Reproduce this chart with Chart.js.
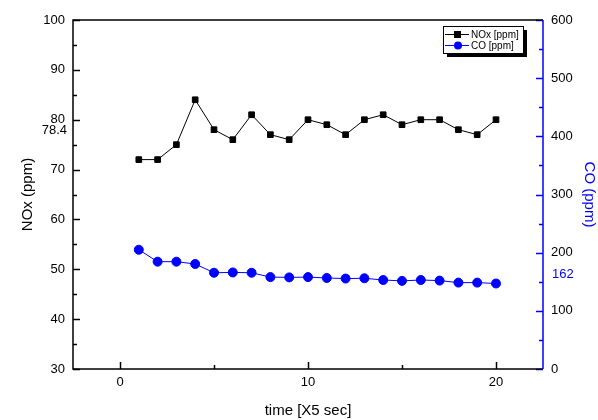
<!DOCTYPE html>
<html lang="en">
<head>
    <meta charset="UTF-8">
    <title>NOx / CO</title>
    <script src="https://cdn.jsdelivr.net/npm/chart.js"></script>
    <style>
        body { margin: 0; background: #fff; }
        #wrap { width: 598px; height: 420px; }
    </style>
</head>
<body>
    <div id="wrap"><canvas id="gasChart" width="598" height="420"></canvas></div>

    <script>
        // sample index (one step = 5 sec)
        var timeSteps = [1, 2, 3, 4, 5, 6, 7, 8, 9, 10, 11, 12, 13, 14, 15, 16, 17, 18, 19, 20];
        var noxPpm = [72, 72, 75, 84, 78, 76, 81, 77, 76, 80, 79, 77, 80, 81, 79, 80, 80, 78, 77, 80];
        var coPpm = [205, 184.5, 184.5, 180.5, 165.5, 166, 165.5, 158, 157.5, 158, 156.5, 155.5, 156, 153, 151.5, 153, 152, 148.5, 148.5, 147];
        var noxMean = 78.4;
        var coMean = 162;

        var xMajor = [0, 10, 20];
        var xMinor = [5, 15];
        var noxMajor = [30, 40, 50, 60, 70, 80, 90, 100];
        var noxMinor = [35, 45, 55, 65, 75, 85, 95];
        var coMajor = [0, 100, 200, 300, 400, 500, 600];
        var coMinor = [50, 150, 250, 350, 450, 550];

        var FONT = "'Liberation Sans', Arial, sans-serif";
        var BLUE = "#0000ff";

        function pts(ys) {
            return timeSteps.map(function (t, i) { return { x: t, y: ys[i] }; });
        }

        // frame, inward tick marks, mean labels and legend box
        var decorations = {
            id: "decorations",
            afterDraw: function (chart) {
                var ctx = chart.ctx, a = chart.chartArea;
                var sx = chart.scales.x, sl = chart.scales.y, sr = chart.scales.y2;
                ctx.save();
                ctx.lineWidth = 1.5;

                // ticks on the bottom axis
                ctx.strokeStyle = "#000";
                xMajor.forEach(function (v) {
                    var px = Math.round(sx.getPixelForValue(v)) + 0.5;
                    ctx.beginPath(); ctx.moveTo(px, a.bottom); ctx.lineTo(px, a.bottom - 7); ctx.stroke();
                });
                xMinor.forEach(function (v) {
                    var px = Math.round(sx.getPixelForValue(v)) + 0.5;
                    ctx.beginPath(); ctx.moveTo(px, a.bottom); ctx.lineTo(px, a.bottom - 4); ctx.stroke();
                });

                // left axis ticks
                noxMajor.forEach(function (v) {
                    var py = Math.round(sl.getPixelForValue(v)) + 0.5;
                    ctx.beginPath(); ctx.moveTo(a.left, py); ctx.lineTo(a.left + 7, py); ctx.stroke();
                });
                noxMinor.forEach(function (v) {
                    var py = Math.round(sl.getPixelForValue(v)) + 0.5;
                    ctx.beginPath(); ctx.moveTo(a.left, py); ctx.lineTo(a.left + 4, py); ctx.stroke();
                });

                // right axis ticks
                ctx.strokeStyle = BLUE;
                coMajor.forEach(function (v) {
                    var py = Math.round(sr.getPixelForValue(v)) + 0.5;
                    ctx.beginPath(); ctx.moveTo(a.right, py); ctx.lineTo(a.right - 7, py); ctx.stroke();
                });
                coMinor.forEach(function (v) {
                    var py = Math.round(sr.getPixelForValue(v)) + 0.5;
                    ctx.beginPath(); ctx.moveTo(a.right, py); ctx.lineTo(a.right - 4, py); ctx.stroke();
                });

                // frame
                ctx.strokeStyle = "#000";
                ctx.beginPath();
                ctx.moveTo(a.right, a.top); ctx.lineTo(a.left, a.top);
                ctx.lineTo(a.left, a.bottom); ctx.lineTo(a.right, a.bottom);
                ctx.stroke();
                ctx.strokeStyle = BLUE;
                ctx.beginPath(); ctx.moveTo(a.right, a.top); ctx.lineTo(a.right, a.bottom); ctx.stroke();

                // mean values next to the axes
                ctx.font = "13px " + FONT;
                ctx.textBaseline = "middle";
                ctx.fillStyle = "#000";
                ctx.textAlign = "right";
                ctx.fillText(String(noxMean), a.left - 6, sl.getPixelForValue(noxMean) + 3);
                ctx.fillStyle = BLUE;
                ctx.textAlign = "left";
                ctx.fillText(String(coMean), a.right + 9, sr.getPixelForValue(coMean));

                // legend
                var bx = 443, by = 26, bw = 80, bh = 27;
                ctx.fillStyle = "#000";
                ctx.fillRect(bx + 4, by + 4, bw, bh);
                ctx.fillStyle = "#fff";
                ctx.fillRect(bx, by, bw, bh);
                ctx.lineWidth = 1;
                ctx.strokeStyle = "#000";
                ctx.strokeRect(bx + 0.5, by + 0.5, bw, bh);

                var rows = [
                    { label: "NOx [ppm]", color: "#000", square: true, y: by + 8 },
                    { label: "CO [ppm]", color: BLUE, square: false, y: by + 19 }
                ];
                ctx.font = "10px " + FONT;
                ctx.textAlign = "left";
                rows.forEach(function (r) {
                    ctx.strokeStyle = r.color;
                    ctx.fillStyle = r.color;
                    ctx.beginPath(); ctx.moveTo(bx + 2, r.y + 0.5); ctx.lineTo(bx + 26, r.y + 0.5); ctx.stroke();
                    if (r.square) {
                        ctx.fillRect(bx + 11, r.y - 3, 7, 7);
                    } else {
                        ctx.beginPath(); ctx.arc(bx + 15, r.y + 0.5, 4, 0, Math.PI * 2); ctx.fill();
                    }
                    ctx.fillStyle = "#000";
                    ctx.fillText(r.label, bx + 28, r.y + 1);
                });
                ctx.restore();
            }
        };

        var ctx = document.getElementById("gasChart").getContext("2d");

        var chart = new Chart(ctx, {
            type: "line",
            data: {
                datasets: [
                    {
                        label: "NOx [ppm]",
                        data: pts(noxPpm),
                        yAxisID: "y",
                        borderColor: "#000",
                        backgroundColor: "#000",
                        borderWidth: 1,
                        pointStyle: "rect",
                        pointRadius: 4,
                        fill: false
                    },
                    {
                        label: "CO [ppm]",
                        data: pts(coPpm),
                        yAxisID: "y2",
                        borderColor: BLUE,
                        backgroundColor: BLUE,
                        borderWidth: 1,
                        pointStyle: "circle",
                        pointRadius: 4.5,
                        fill: false
                    }
                ]
            },
            options: {
                responsive: false,
                animation: false,
                layout: { padding: { top: 20, left: 0, right: 0, bottom: 0 } },
                plugins: {
                    legend: { display: false },
                    tooltip: { enabled: false }
                },
                scales: {
                    x: {
                        type: "linear",
                        min: -2.5,
                        max: 22.5,
                        grid: { display: false, drawTicks: false },
                        border: { display: false },
                        afterBuildTicks: function (s) { s.ticks = xMajor.map(function (v) { return { value: v }; }); },
                        ticks: { color: "#000", font: { family: FONT, size: 13 }, padding: 6, maxRotation: 0 },
                        title: { display: true, text: "time [X5 sec]", color: "#000", font: { family: FONT, size: 15 }, padding: { top: 6, bottom: 0 } },
                        afterFit: function (s) { s.height = 51; }
                    },
                    y: {
                        position: "left",
                        min: 30,
                        max: 100,
                        grid: { display: false, drawTicks: false },
                        border: { display: false },
                        afterBuildTicks: function (s) { s.ticks = noxMajor.map(function (v) { return { value: v }; }); },
                        ticks: { color: "#000", font: { family: FONT, size: 13 }, padding: 8 },
                        title: { display: true, text: "NOx (ppm)", color: "#000", font: { family: FONT, size: 15 }, padding: { top: 19, bottom: 0 } },
                        afterFit: function (s) { s.width = 73; }
                    },
                    y2: {
                        position: "right",
                        min: 0,
                        max: 600,
                        grid: { display: false, drawTicks: false },
                        border: { display: false },
                        afterBuildTicks: function (s) { s.ticks = coMajor.map(function (v) { return { value: v }; }); },
                        ticks: { color: "#000", font: { family: FONT, size: 13 }, padding: 8 },
                        title: { display: true, text: "CO (ppm)", color: BLUE, font: { family: FONT, size: 15 }, padding: { top: 0, bottom: 2 } },
                        afterFit: function (s) { s.width = 55; }
                    }
                }
            },
            plugins: [decorations]
        });
    </script>
</body>
</html>
